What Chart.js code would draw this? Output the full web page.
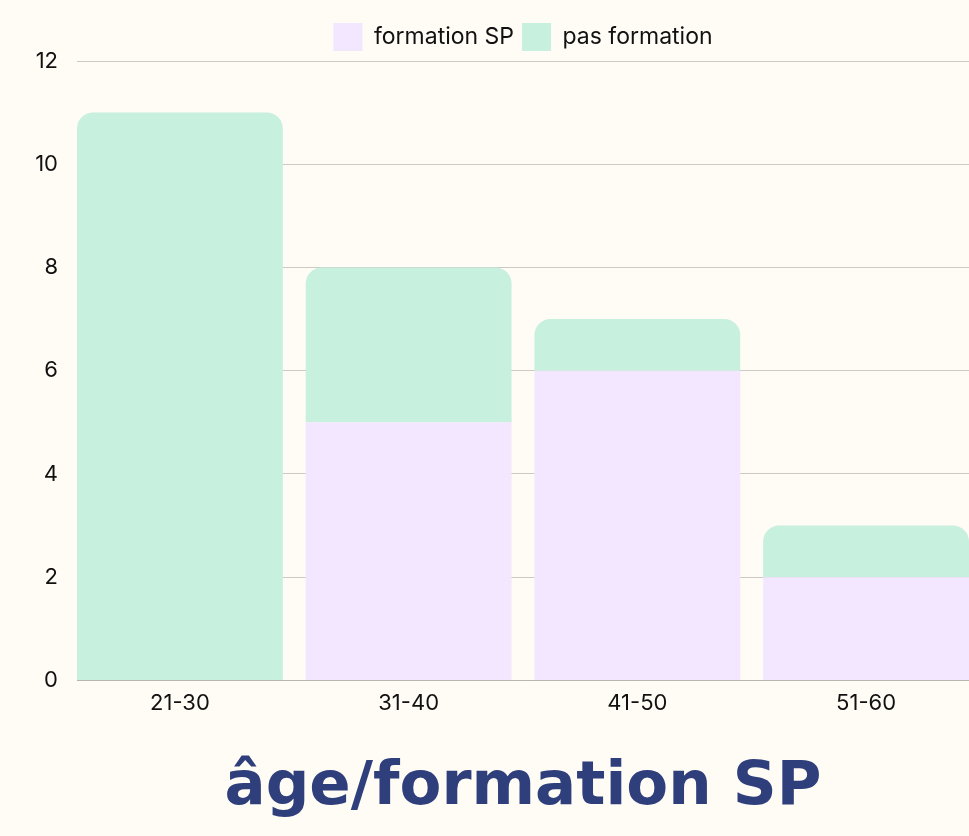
<!DOCTYPE html>
<html>
<head>
<meta charset="utf-8">
<script src="https://cdn.jsdelivr.net/npm/chart.js@4"></script>
<style>
  html, body { margin: 0; padding: 0; background: #fffbf5; overflow: hidden; }
  #wrap { width: 969px; height: 836px; }
</style>
</head>
<body>
<div id="wrap"><canvas id="ageChart"></canvas></div>
<script>
// données
var trancheAge = ['21-30', '31-40', '41-50', '51-60'];
var formationSP = [0, 5, 6, 2];
var pasFormation = [11, 3, 1, 1];
var yTicks = [0, 2, 4, 6, 8, 10, 12];

function points(vals) {
    return vals.map(function (v, i) { return { x: i, y: v }; });
}

var ageChart = new Chart(document.getElementById('ageChart'), {
    type: 'bar',
    data: {
        datasets: [{
            label: 'formation SP',
            data: points(formationSP),
            backgroundColor: '#f3e6ff',
            borderWidth: 0,
            borderRadius: 0
        }, {
            label: 'pas formation',
            data: points(pasFormation),
            backgroundColor: '#c8f0de',
            borderWidth: 0,
            borderRadius: { topLeft: 16, topRight: 16, bottomLeft: 0, bottomRight: 0 },
            borderSkipped: 'bottom'
        }]
    },
    options: {
        responsive: true,
        maintainAspectRatio: false,
        animation: false,
        barPercentage: 0.9,
        categoryPercentage: 1,
        layout: { padding: { top: 15, right: 0, bottom: 0, left: 0 } },
        plugins: {
            legend: {
                position: 'top',
                fullSize: false,
                labels: {
                    boxWidth: 29,
                    boxHeight: 28,
                    padding: 8,
                    color: '#111',
                    font: { family: 'Inter', size: 23 }
                }
            },
            title: {
                display: true,
                position: 'bottom',
                fullSize: false,
                text: 'âge/formation SP',
                color: '#2f3f7c',
                font: { family: 'DejaVu Sans', size: 61, weight: 'bold', lineHeight: 1.2 },
                padding: { top: 25, bottom: 11 }
            },
            tooltip: { enabled: false }
        },
        scales: {
            x: {
                type: 'linear',
                stacked: true,
                min: -0.45,
                max: 3.45,
                offset: false,
                grid: { display: false, drawTicks: false },
                border: { display: true, color: '#b9b5b1', width: 1 },
                ticks: {
                    stepSize: 1,
                    includeBounds: false,
                    autoSkip: false,
                    maxRotation: 0,
                    padding: 10,
                    color: '#111',
                    font: { family: 'Inter', size: 22 },
                    callback: function (v) { return trancheAge[v]; }
                }
            },
            y: {
                stacked: true,
                min: 0,
                max: 12,
                afterFit: function (scale) { scale.width = 77; },
                afterBuildTicks: function (scale) {
                    scale.ticks = yTicks.map(function (v) { return { value: v }; });
                },
                grid: { color: '#cdc9c4', drawTicks: false },
                border: { display: false },
                ticks: {
                    padding: 19,
                    color: '#111',
                    font: { family: 'Inter', size: 22 }
                }
            }
        }
    }
});
</script>
</body>
</html>
